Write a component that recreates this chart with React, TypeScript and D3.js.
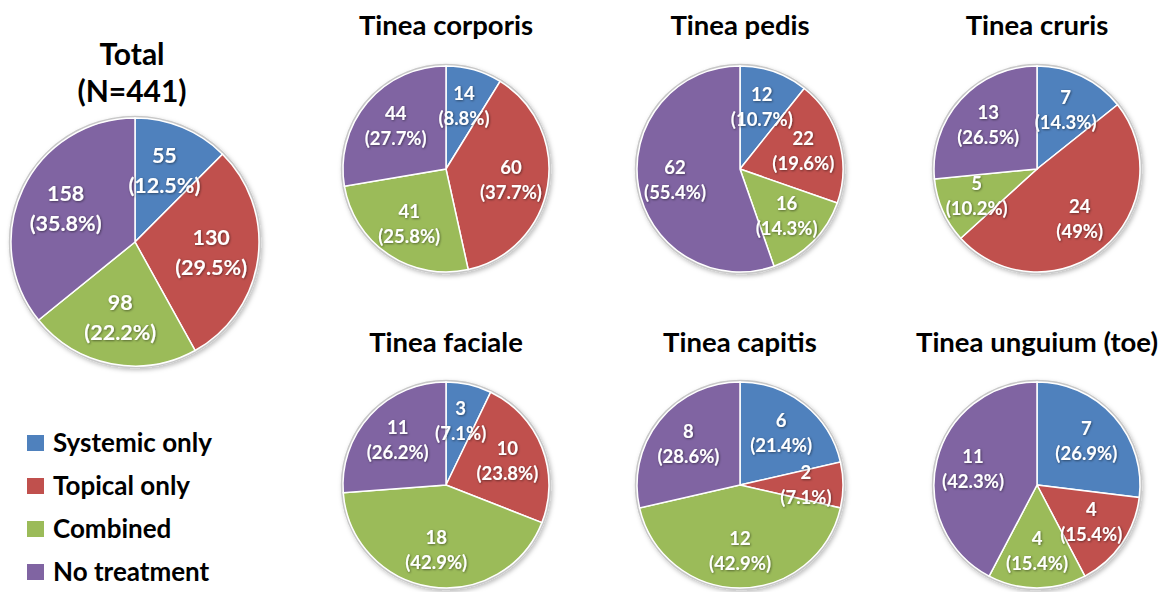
import React from "react";
import * as d3 from "d3";

// Treatment groups, in slice order (clockwise from 12 o'clock)
const categories = ["Systemic only", "Topical only", "Combined", "No treatment"];
const categoryColors = ["#4F81BD", "#C0504D", "#9BBB59", "#8064A2"];

// Patient counts per treatment group
const totalCounts = [55, 130, 98, 158];
const corporisCounts = [14, 60, 41, 44];
const pedisCounts = [12, 22, 16, 62];
const crurisCounts = [7, 24, 5, 13];
const facialeCounts = [3, 10, 18, 11];
const capitisCounts = [6, 2, 12, 8];
const unguiumCounts = [7, 4, 4, 11];

const totalTitle = ["Total", "(N=441)"];
const panelTitles = [
  "Tinea corporis",
  "Tinea pedis",
  "Tinea cruris",
  "Tinea faciale",
  "Tinea capitis",
  "Tinea unguium (toe)",
];
const panelCounts = [
  corporisCounts,
  pedisCounts,
  crurisCounts,
  facialeCounts,
  capitisCounts,
  unguiumCounts,
];

const W = 1166;
const H = 592;
const FONT = "Lato, 'Open Sans', sans-serif";

const color = d3.scaleOrdinal<number, string>().domain([0, 1, 2, 3]).range(categoryColors);
const pieGen = d3.pie<number>().sort(null).value((d) => d);
const fmtPct = (v: number) => `${parseFloat(v.toFixed(1))}%`;

type PieProps = {
  cx: number;
  cy: number;
  r: number;
  counts: number[];
  labelFrac: number;
  fontSize: number;
  lineGap: number;
};

function Pie({ cx, cy, r, counts, labelFrac, fontSize, lineGap }: PieProps) {
  const arcs = pieGen(counts);
  const sum = d3.sum(counts);
  const arcGen = d3.arc<d3.PieArcDatum<number>>().innerRadius(0).outerRadius(r);
  const labelArc = d3
    .arc<d3.PieArcDatum<number>>()
    .innerRadius(r * labelFrac)
    .outerRadius(r * labelFrac);
  return (
    <g transform={`translate(${cx},${cy})`}>
      <circle r={r + 1} fill="#ffffff" stroke="#c8c8c8" strokeWidth={2.5} filter="url(#pieShadow)" />
      {arcs.map((a, i) => (
        <path key={i} d={arcGen(a) || ""} fill={color(i)} stroke="#ffffff" strokeWidth={1.5} />
      ))}
      <g
        filter="url(#labelShadow)"
        fill="#ffffff"
        fontFamily={FONT}
        fontWeight="bold"
        fontSize={fontSize}
        textAnchor="middle"
      >
        {arcs.map((a, i) => {
          const [lx, ly] = labelArc.centroid(a);
          return (
            <g key={i}>
              <text x={lx} y={ly - lineGap / 2} dy="0.35em">
                {a.data}
              </text>
              <text x={lx} y={ly + lineGap / 2} dy="0.35em">
                ({fmtPct((a.data / sum) * 100)})
              </text>
            </g>
          );
        })}
      </g>
    </g>
  );
}

export default function App() {
  const colX = [446, 740, 1037];
  const rowY = [169, 485];
  const titleY = [35, 352];
  const smallR = 103;

  return (
    <svg
      width={W}
      height={H}
      viewBox={`0 0 ${W} ${H}`}
      style={{ position: "absolute", left: 0, top: 0, background: "#ffffff" }}
    >
      <defs>
        <filter id="pieShadow" x="-20%" y="-20%" width="140%" height="140%">
          <feDropShadow dx="1.5" dy="2" stdDeviation="2" floodColor="#000" floodOpacity="0.25" />
        </filter>
        <filter id="labelShadow" x="-20%" y="-20%" width="140%" height="140%">
          <feDropShadow dx="0.8" dy="0.8" stdDeviation="0.8" floodColor="#000" floodOpacity="0.5" />
        </filter>
      </defs>

      {/* Overall pie */}
      <g fontFamily={FONT} fontWeight="bold" fontSize={30} textAnchor="middle" fill="#000">
        <text x={132} y={65}>{totalTitle[0]}</text>
        <text x={132} y={102}>{totalTitle[1]}</text>
      </g>
      <Pie cx={135} cy={242} r={124} counts={totalCounts} labelFrac={0.62} fontSize={21.5} lineGap={30} />

      {/* Per-site pies */}
      {panelCounts.map((counts, i) => {
        const col = i % 3;
        const row = Math.floor(i / 3);
        return (
          <g key={i}>
            <text
              x={colX[col]}
              y={titleY[row]}
              fontFamily={FONT}
              fontWeight="bold"
              fontSize={27.5}
              textAnchor="middle"
              fill="#000"
            >
              {panelTitles[i]}
            </text>
            <Pie
              cx={colX[col]}
              cy={rowY[row]}
              r={smallR}
              counts={counts}
              labelFrac={0.64}
              fontSize={18.5}
              lineGap={25}
            />
          </g>
        );
      })}

      {/* Legend */}
      <g fontFamily={FONT} fontWeight="bold" fontSize={26} fill="#000">
        {categories.map((c, i) => (
          <g key={c} transform={`translate(27,${452 + i * 43})`}>
            <rect x={0} y={-17} width={17} height={16} fill={color(i)} />
            <text x={26} y={0}>{c}</text>
          </g>
        ))}
      </g>
    </svg>
  );
}
